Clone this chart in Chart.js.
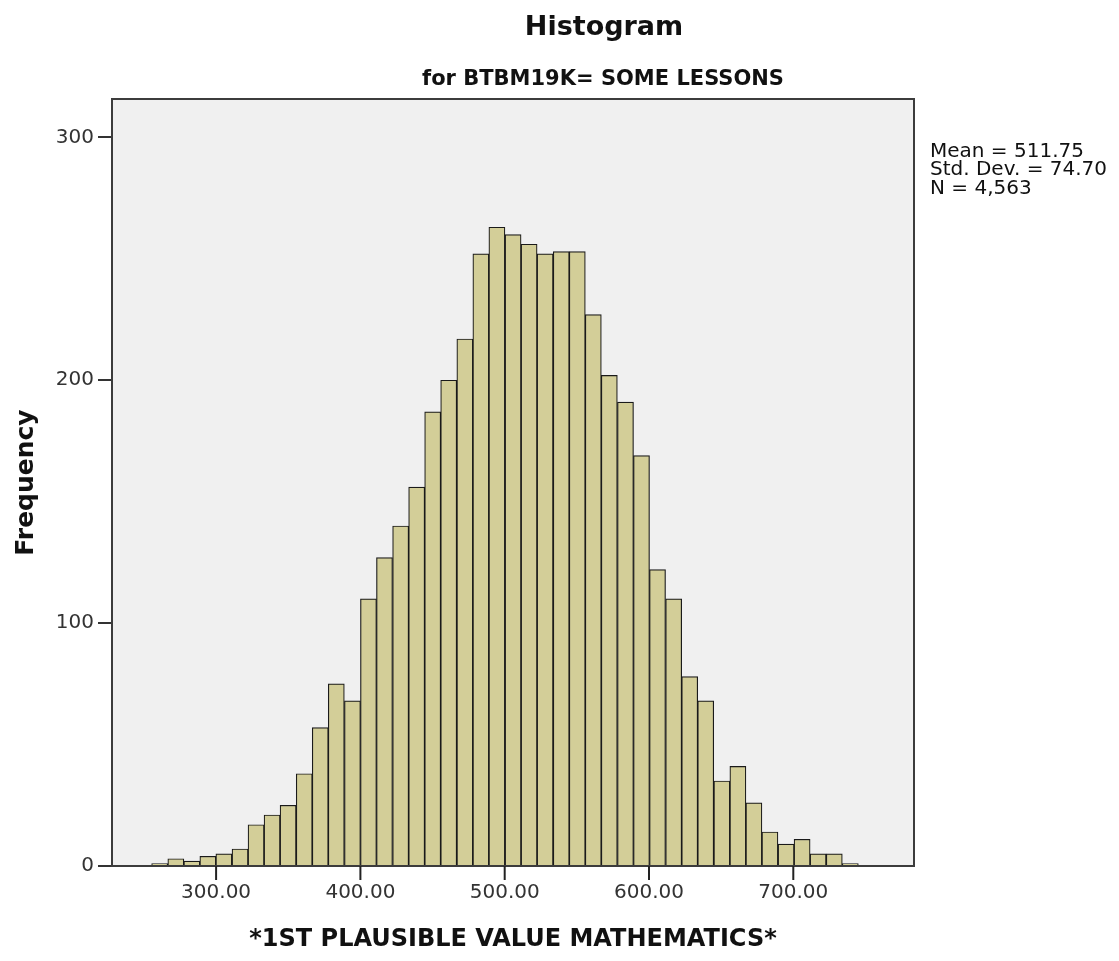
<!DOCTYPE html>
<html>
<head>
<meta charset="utf-8">
<script src="https://cdn.jsdelivr.net/npm/chart.js@4/dist/chart.umd.min.js"></script>
<style>
  html, body { margin: 0; padding: 0; background: #ffffff; }
  #wrap { width: 1119px; height: 961px; }
</style>
</head>
<body>
<div id="wrap"><canvas id="c" width="1119" height="961"></canvas></div>
<script>
// Bin centers
const binCenters = [260.9, 272.1, 283.2, 294.3, 305.4, 316.6, 327.7, 338.8, 349.9, 361.1,
  372.2, 383.3, 394.5, 405.6, 416.7, 427.9, 439.0, 450.1, 461.2, 472.4,
  483.5, 494.6, 505.8, 516.9, 528.0, 539.2, 550.3, 561.4, 572.5, 583.7,
  594.8, 605.9, 617.1, 628.2, 639.3, 650.5, 661.6, 672.7, 683.8, 695.0,
  706.1, 717.2, 728.4, 739.5];
// Frequencies
const frequencies = [1, 3, 2, 4, 5, 7, 17, 21, 25, 38,
  57, 75, 68, 110, 127, 140, 156, 187, 200, 217,
  252, 263, 260, 256, 252, 253, 253, 227, 202, 191,
  169, 122, 110, 78, 68, 35, 41, 26, 14, 9,
  11, 5, 5, 1];
const xTickValues = [300, 400, 500, 600, 700];
const yTickValues = [0, 100, 200, 300];
const chartTitle = 'Histogram';
const chartSubtitle = 'for BTBM19K= SOME LESSONS';
const statLines = ['Mean = 511.75', 'Std. Dev. = 74.70', 'N = 4,563'];
const xTitle = '*1ST PLAUSIBLE VALUE MATHEMATICS*';
const yTitle = 'Frequency';

const FONT = '"DejaVu Sans", "Noto Sans", sans-serif';

const decorPlugin = {
  id: 'decor',
  beforeDraw(chart) {
    const { ctx, chartArea: a } = chart;
    ctx.save();
    ctx.fillStyle = '#f0f0f0';
    ctx.fillRect(a.left, a.top, a.right - a.left, a.bottom - a.top);
    ctx.restore();
  },
  afterDraw(chart) {
    const { ctx, chartArea: a } = chart;
    const xs = chart.scales.x;
    ctx.save();
    ctx.strokeStyle = '#3c3c3c';
    ctx.lineWidth = 2;
    ctx.strokeRect(a.left, a.top, a.right - a.left, a.bottom - a.top);
    // x tick marks
    ctx.strokeStyle = '#222';
    ctx.lineWidth = 2;
    xs.ticks.forEach(t => {
      const px = xs.getPixelForValue(t.value);
      ctx.beginPath();
      ctx.moveTo(px, a.bottom);
      ctx.lineTo(px, a.bottom + 14);
      ctx.stroke();
    });
    // titles
    ctx.fillStyle = '#111';
    ctx.textAlign = 'center';
    ctx.textBaseline = 'alphabetic';
    ctx.font = 'bold 27px ' + FONT;
    ctx.fillText(chartTitle, 604, 35);
    ctx.font = 'bold 21px ' + FONT;
    ctx.fillText(chartSubtitle, 603, 85);
    // statistics
    ctx.textAlign = 'left';
    ctx.font = '20px ' + FONT;
    ctx.fillStyle = '#111';
    statLines.forEach((t, i) => ctx.fillText(t, 930, 157 + i * 18.3));
    ctx.restore();
  }
};

new Chart(document.getElementById('c'), {
  type: 'bar',
  data: {
    datasets: [{
      data: binCenters.map((x, i) => ({ x: x, y: frequencies[i] })),
      backgroundColor: '#d3ce98',
      borderColor: '#1a1a1a',
      borderWidth: 1.2,
      barPercentage: 1.0,
      categoryPercentage: 1.0,
      barThickness: 16.06
    }]
  },
  options: {
    responsive: false,
    animation: false,
    devicePixelRatio: 1,
    layout: { padding: { left: 0, top: 99, right: 205, bottom: 0 } },
    plugins: { legend: { display: false }, tooltip: { enabled: false }, title: { display: false } },
    scales: {
      x: {
        type: 'linear',
        offset: false,
        min: 227.86,
        max: 783.65,
        afterFit(s) { s.height = 95; },
        afterBuildTicks(s) { s.ticks = xTickValues.map(v => ({ value: v })); },
        grid: { offset: false, drawOnChartArea: false, drawTicks: false, tickLength: 14 },
        border: { display: false },
        ticks: {
          autoSkip: false, maxRotation: 0, padding: 15,
          color: '#333', font: { family: FONT, size: 20 },
          callback: v => Number(v).toFixed(2)
        },
        title: {
          display: true, text: xTitle, color: '#111',
          font: { family: FONT, size: 24, weight: 'bold' },
          padding: { top: 0, bottom: 7 }
        }
      },
      y: {
        type: 'linear',
        min: 0,
        max: 315.8,
        afterFit(s) { s.width = 112; },
        afterBuildTicks(s) { s.ticks = yTickValues.map(v => ({ value: v })); },
        grid: { drawOnChartArea: false, drawTicks: true, tickLength: 14, color: '#333', lineWidth: 2 },
        border: { display: false },
        ticks: {
          autoSkip: false, padding: 4,
          color: '#333', font: { family: FONT, size: 20 }
        },
        title: {
          display: true, text: yTitle, color: '#111',
          font: { family: FONT, size: 25, weight: 'bold' },
          padding: { top: 11, bottom: 0 }
        }
      }
    }
  },
  plugins: [decorPlugin]
});
</script>
</body>
</html>
